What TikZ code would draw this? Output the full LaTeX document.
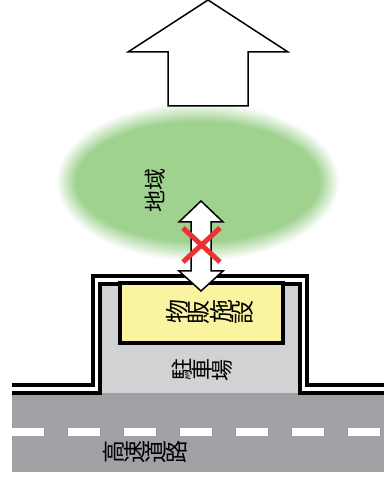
\documentclass[tikz,border=0pt]{standalone}
\usepackage{fontspec}
\usepackage{graphicx}
\newfontfamily\jp{Noto Sans CJK JP}
\usetikzlibrary{positioning}
\definecolor{areagreen}{RGB}{158,210,142}
\definecolor{shopyellow}{RGB}{250,244,160}
\definecolor{parkgray}{RGB}{209,210,212}
\definecolor{roadgray}{RGB}{160,161,165}
\definecolor{ngred}{RGB}{232,52,52}
\newcommand\rc[1]{\rotatebox[origin=c]{90}{#1}}

\begin{document}
\begin{tikzpicture}[x=1pt, y=1pt,
      lbl/.style={font=\jp\fontsize{22}{24}\selectfont, inner sep=0pt},
      wall/.style={line width=4pt},
      shopbox/.style={draw, line width=4pt, fill=shopyellow, minimum width=163pt, minimum height=60pt, inner sep=0pt},
      outline/.style={draw, fill=white, line width=1.5pt}]
      \useasboundingbox (0,0) rectangle (384,479);
      % region blob (soft edge) and outward arrow
      \foreach \i in {0,...,20}{
        \pgfmathtruncatemacro\pct{5*\i}
        \fill[areagreen!\pct!white] (198,297) ellipse [x radius=142-\i, y radius=80-\i];
      }
      \draw[outline] (208,479) -- (288,427) -- (248,427) -- (248,373) -- (168,373) -- (168,427) -- (128,427) -- cycle;
      \node[lbl, rotate=90] (area) at (155,288) {地域};
      % road and parking
      \fill[roadgray] (12,7) rectangle (384,86);
      \draw[white, line width=8pt, dash pattern=on 32pt off 24pt] (12,47) -- (384,47);
      \fill[parkgray] (100,86) rectangle (300,195);
      \draw[wall] (12,94) -- (93,94) -- (93,203) -- (307,203) -- (307,94) -- (384,94);
      \draw[wall] (12,86) -- (100,86) -- (100,195) -- (300,195) -- (300,86) -- (384,86);
      \node[shopbox] (shop) at (201.5,166) {};
      % blocked link
      \draw[outline] (201,278) -- (223,257) -- (211,257) -- (211,208) -- (223,208) -- (201,188)
        -- (179,208) -- (191,208) -- (191,257) -- (179,257) -- cycle;
      \draw[ngred, line width=5pt] (183,251) -- (220,217) (183,217) -- (220,251);
      % labels
      \node[lbl, font=\jp\fontsize{24}{26}\selectfont] (shoplbl) at (210,167) {\rc{物}\rc{販}\rc{施}\rc{設}};
      \node[lbl] (parklbl) at (202,109) {\rc{駐}\rc{車}\rc{場}};
      \node[lbl, font=\jp\fontsize{23}{25}\selectfont] (roadlbl) at (145,27) {\rc{高}\rc{速}\rc{道}\rc{路}};
    \end{tikzpicture}
\end{document}
